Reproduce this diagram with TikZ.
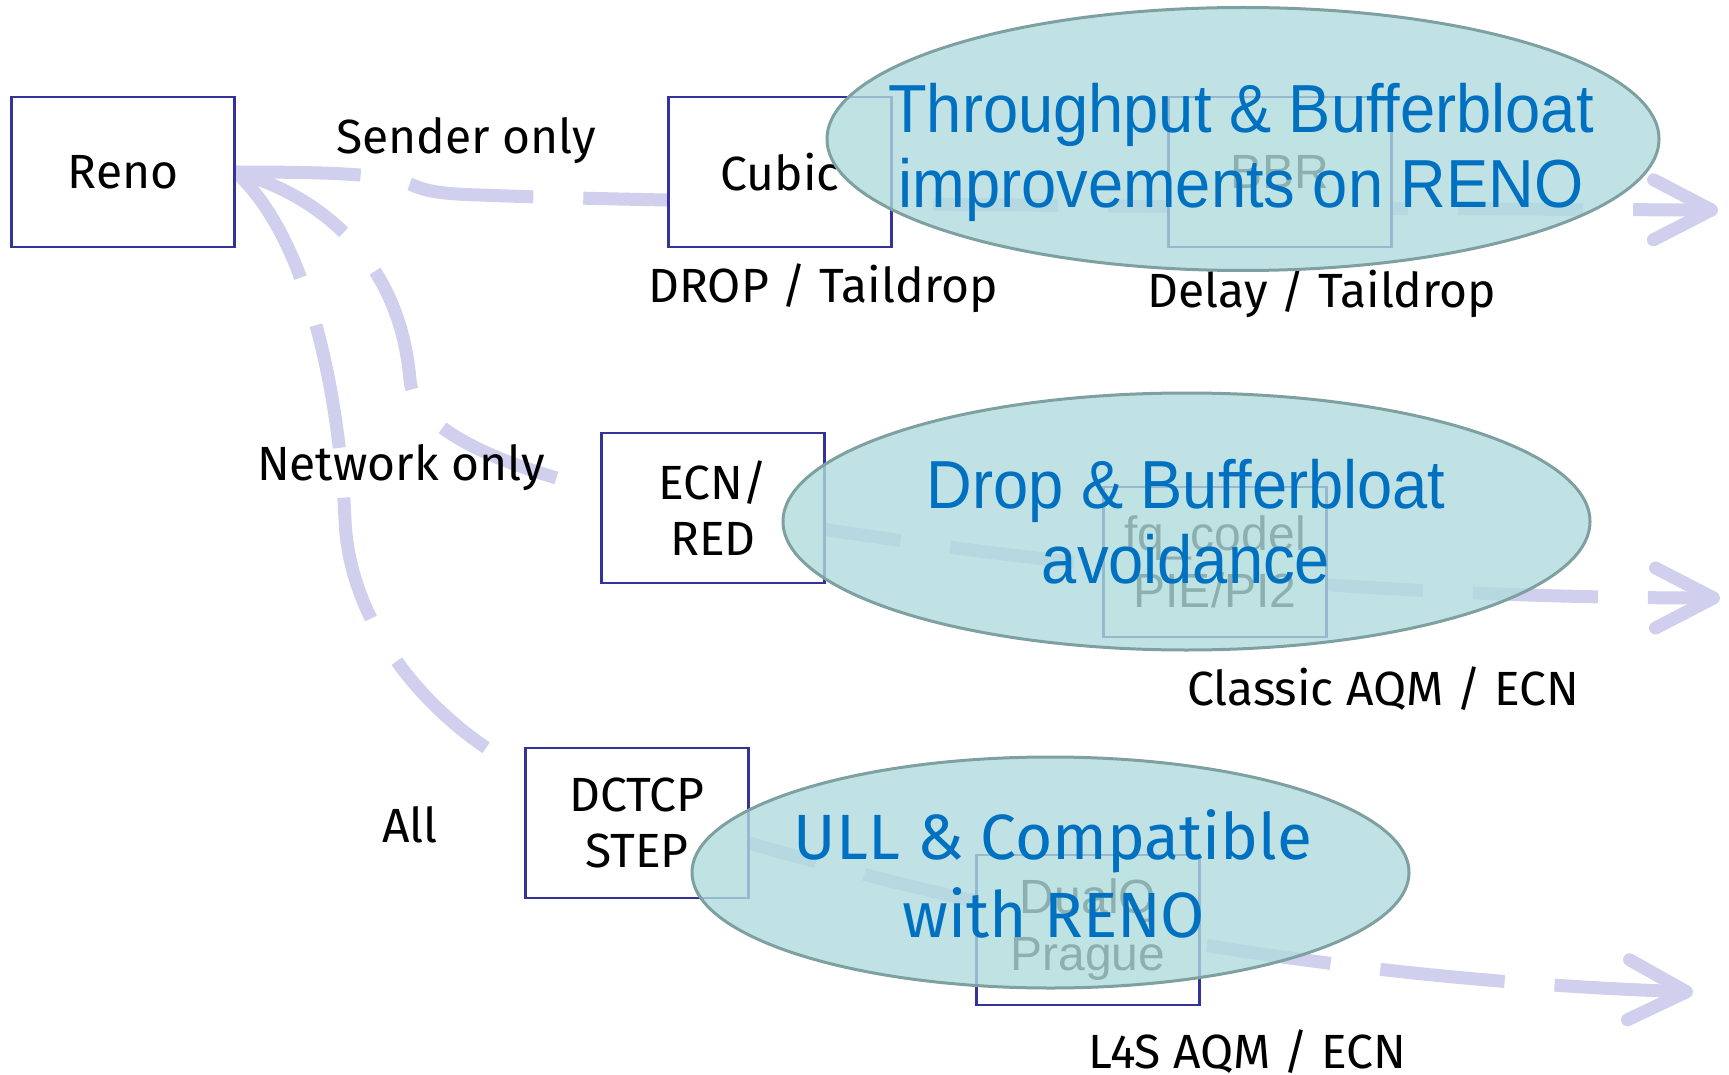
\documentclass[tikz,border=0pt]{standalone}
\usepackage{fontspec}
\setmainfont{Fira Sans}
\newfontfamily\arialf[FakeStretch=0.93]{Liberation Sans}
\newfontfamily\arialn{Liberation Sans}
\usetikzlibrary{arrows.meta,shapes.geometric}
\definecolor{boxblue}{HTML}{333399}
\definecolor{flowc}{HTML}{D0D0EE}
\definecolor{ellfill}{HTML}{B0DBDD}
\definecolor{elldraw}{HTML}{7FA0A0}
\definecolor{txtblue}{HTML}{0070C0}
\pgfdeclarelayer{bg}\pgfdeclarelayer{fg}
\pgfsetlayers{bg,main,fg}
\begin{document}
\begin{tikzpicture}[x=0.5pt,y=-0.5pt,
 algo/.style={draw=boxblue,line width=1.25pt,fill=white,minimum width=111.5pt,minimum height=75pt,inner sep=0pt,align=center,font=\fontsize{24}{28}\selectfont},
 innerbox/.style={algo,font=\arialn\fontsize{24}{28.5}\selectfont},
 ell/.style={ellipse,draw=elldraw,line width=1.5pt,fill=ellfill,fill opacity=0.8,text opacity=1,inner sep=0pt},
 bt/.style={text=txtblue,font=\arialf\fontsize{34}{34}\selectfont,anchor=base,inner sep=0pt},
 btt/.style={text=txtblue,font=\fontsize{32}{32}\selectfont,anchor=base,inner sep=0pt},
 lab/.style={font=\fontsize{24}{24}\selectfont,anchor=base,inner sep=0pt},
 flow/.style={draw=flowc,line width=6.5pt,dash pattern=on 62.5pt off 25pt,-{Straight Barb[length=29pt,width=30pt,line width=6.5pt,round]}}
]
\useasboundingbox (0,0) rectangle (1729,1075);
% boxes
\node[algo] (reno) at (123,172) {Reno};
\node[algo] (cubic) at (780,172) {Cubic};
\node[innerbox] (bbr) at (1280,172) {BBR};
\node[algo] (ecn) at (713,508) {ECN/\\RED};
\node[innerbox] (fq) at (1215,562) {fq\_codel\\PIE/PI2};
\node[algo] (dctcp) at (637,823) {DCTCP\\STEP};
\node[innerbox] (dualq) at (1088,930) {DualQ\\Prague};
% labels
\node[lab] (l1) at (466,154) {Sender only};
\node[lab] (l2) at (823,302) {DROP / Taildrop};
\node[lab] (l3) at (1322,307) {Delay / Taildrop};
\node[lab] (l4) at (401,480) {Network only};
\node[lab] (l5) at (410,842) {All};
\node[lab] (l6) at (1383,705) {Classic AQM / ECN};
\node[lab] (l7) at (1247,1068) {L4S AQM / ECN};
% ellipses
\begin{pgfonlayer}{fg}
\node[ell,minimum width=416pt,minimum height=131.5pt] (e1) at (1243,139) {};
\node[ell,minimum width=403.5pt,minimum height=128.5pt] (e2) at (1186.5,521.5) {};
\node[ell,minimum width=358.5pt,minimum height=115.5pt] (e3) at (1050.5,872.5) {};
\node[bt] (e1a) at (1241,133) {Throughput \& Bufferbloat};
\node[bt] (e1b) at (1241,208) {improvements on RENO};
\node[bt] (e2a) at (1186,508) {Drop \& Bufferbloat};
\node[bt] (e2b) at (1186,583) {avoidance};
\node[btt] (e3a) at (1053,859) {ULL \& Compatible};
\node[btt] (e3b) at (1054,937) {with RENO};
\end{pgfonlayer}
% flows
\coordinate (t1) at (1718,210);
\coordinate (t2) at (1720,598);
\coordinate (t3) at (1693,992);
\coordinate (a1) at (410,380);
\coordinate (a2) at (602,490);
\coordinate (b1) at (345,520);
\coordinate (b2) at (525,770);
\coordinate (s1) at (410,184);
\coordinate (s2) at (480,195);
\begin{pgfonlayer}{bg}
\draw[flow] (reno.east) .. controls (330,172) and (385,174) .. (s1) .. controls (425,191) and (440,194) .. (s2) .. controls (700,204) and (1400,209) .. (t1);
\draw[flow] (reno.east) .. controls (320,195) and (400,260) .. (a1) .. controls (415,440) and (540,475) .. (a2) .. controls (900,550) and (1300,598) .. (t2);
\draw[flow] (reno.east) .. controls (310,240) and (340,400) .. (b1) .. controls (350,640) and (450,735) .. (b2) .. controls (800,870) and (1200,975) .. (t3);
\end{pgfonlayer}
\end{tikzpicture}
\end{document}
